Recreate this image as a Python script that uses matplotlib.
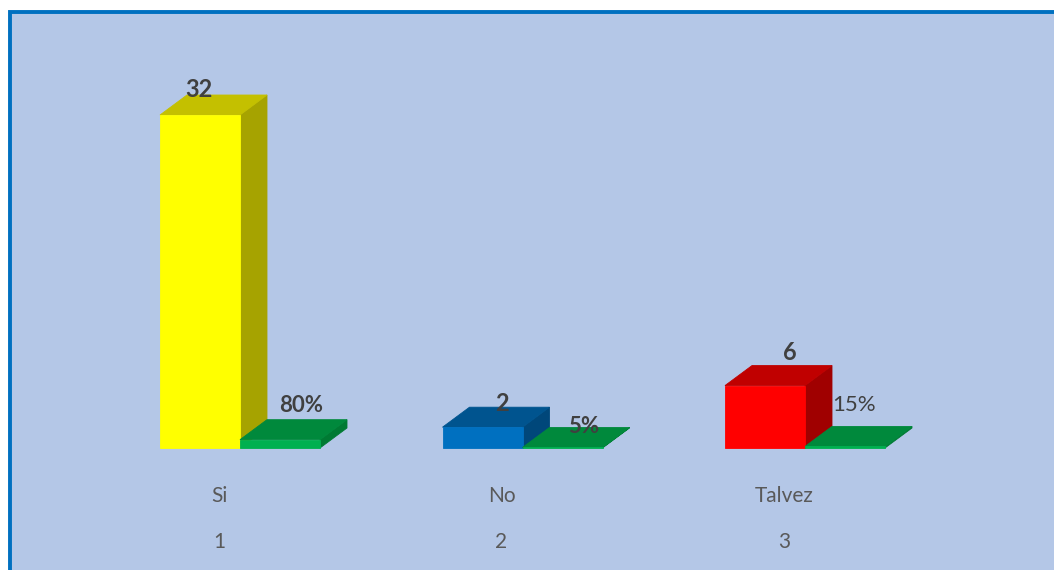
import matplotlib
matplotlib.use("Agg")
import matplotlib.pyplot as plt
from matplotlib.patches import Polygon, Rectangle

# ---- data ----
categories = ["Si", "No", "Talvez"]
cat_numbers = ["1", "2", "3"]
counts = [32, 2, 6]
percents = [0.80, 0.05, 0.15]
percent_labels = ["80%", "5%", "15%"]

# ---- styling ----
front_colors = ["#FFFF00", "#0070C0", "#FF0000"]
top_colors = ["#C4C000", "#00548F", "#C00000"]
side_colors = ["#A6A300", "#00477A", "#A00000"]
green_front, green_top, green_side = "#00B050", "#00893C", "#007A33"
bg = "#B4C7E7"
border = "#0070C0"
txt = "#404040"
txt_light = "#595959"

W, H = 1054, 570
fig = plt.figure(figsize=(W / 100, H / 100), dpi=100)
fig.patch.set_facecolor("white")

ax = fig.add_axes([0, 0, 1, 1])
ax.set_facecolor("none")
ax.axis("off")

# background panel with blue border (left/top visible)
ax.add_patch(Rectangle((9.5 / W, -0.02), 1.05, (H - 12.5) / H + 0.02,
                       transform=fig.transFigure, facecolor=bg,
                       edgecolor=border, linewidth=2.8, zorder=0, clip_on=False))

# scales: category spacing in px, value scale in px/unit
sp = 282.5
ppu = (448 - 115) / 32.0
x0px = 240.0  # group 1 center px
ax.set_xlim(1 - x0px / sp, 1 + (W - x0px) / sp)
ax.set_ylim(-(H - 448) / ppu, 448 / ppu)

bw = 80 / sp
ddx = 27 / sp
ddy = 20 / ppu


def bar3d(x, h, cf, ct, cs, z):
    front = [(x, 0), (x + bw, 0), (x + bw, h), (x, h)]
    top = [(x, h), (x + bw, h), (x + bw + ddx, h + ddy), (x + ddx, h + ddy)]
    side = [(x + bw, 0), (x + bw + ddx, ddy), (x + bw + ddx, h + ddy), (x + bw, h)]
    for pts, c in ((side, cs), (top, ct), (front, cf)):
        ax.add_patch(Polygon(pts, closed=True, facecolor=c, edgecolor=c,
                             linewidth=0.6, zorder=z))


font = "Lato"
# label offsets (px) of the text's visual center from the bar's front-top center
val_off = [(-1, -27), (20, -25), (24.5, -33.6)]
pct_off = [(21, -36), (21, -22.5), (9, -43)]
pct_bold = [True, True, False]
val_fs, pct_fs, cat_fs = 17, 16, 15
half_cap = lambda fs: 0.72 * fs * 100 / 72 / 2

for i, (cat, num, c, p) in enumerate(zip(categories, cat_numbers, counts, percents)):
    xc = i + 1
    bar3d(xc - bw, c, front_colors[i], top_colors[i], side_colors[i], 2 + 2 * i)
    bar3d(xc, p, green_front, green_top, green_side, 3 + 2 * i)
    # value label
    ox, oy = val_off[i]
    ax.text(xc - bw / 2 + ox / sp, c - (oy + half_cap(val_fs)) / ppu, str(c),
            ha="center", va="baseline", fontsize=val_fs, fontweight="bold",
            color=txt, family=font, zorder=20)
    # percent label
    ox, oy = pct_off[i]
    ax.text(xc + bw / 2 + ox / sp, p - (oy + half_cap(pct_fs)) / ppu,
            percent_labels[i], ha="center", va="baseline", fontsize=pct_fs,
            fontweight="bold" if pct_bold[i] else "normal",
            color=txt, family=font, zorder=20)
    # category labels
    ax.text(xc - 21 / sp, -(46 + half_cap(cat_fs)) / ppu, cat, ha="center",
            va="baseline", fontsize=cat_fs, color=txt_light, family=font)
    ax.text(xc - 21 / sp, -(93 + half_cap(cat_fs)) / ppu, num, ha="center",
            va="baseline", fontsize=cat_fs, color=txt_light, family=font)

fig.savefig("out.png", dpi=100, facecolor="white")
